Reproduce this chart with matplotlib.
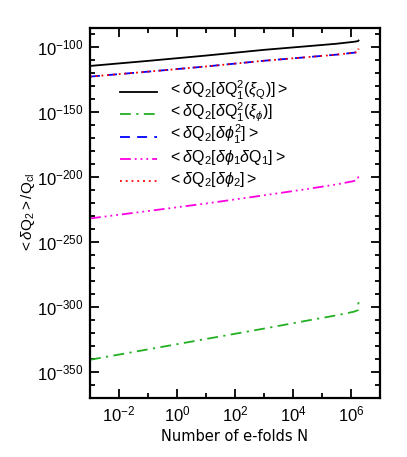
import matplotlib
matplotlib.use("Agg")
import matplotlib.pyplot as plt
from matplotlib.ticker import FixedLocator, FuncFormatter

plt.rcParams['font.family'] = ['Liberation Sans', 'DejaVu Sans']
plt.rcParams['mathtext.fontset'] = 'custom'
plt.rcParams['mathtext.rm'] = 'Liberation Sans'
plt.rcParams['mathtext.it'] = 'Liberation Sans:italic'
plt.rcParams['mathtext.bf'] = 'Liberation Sans:bold'

# log10 of the number of e-folds N
log_N = [-3, -1, 1, 3, 4.5, 5.5, 6.1, 6.24, 6.26]
log_N_blue = [-3, -1, 1, 3, 4.5, 5.5, 6.1, 6.24]

# log10 of <dQ2>/Q_cl for each contribution
log_Q1Q1_xiQ = [-114.6, -110.7, -106.6, -102.2, -99.4, -97.5, -96.0, -95.5, -95.0]
log_Q1Q1_xiphi = [-340.8, -332.8, -324.8, -316.8, -310.6, -306.6, -303.8, -302.6, -296.0]
log_phi1sq = [-122.8, -119.0, -115.0, -110.6, -107.8, -105.9, -104.4, -103.9]
log_phi1Q1 = [-232.0, -226.3, -220.5, -214.2, -209.3, -205.8, -203.2, -201.8, -197.4]
log_phi2 = [-122.8, -119.0, -115.0, -110.6, -107.8, -105.9, -104.4, -103.9, -101.2]

labels = [
    r'$<\delta\mathrm{Q}_2[\delta\mathrm{Q}_1^2(\xi_\mathrm{Q})]>$',
    r'$<\delta\mathrm{Q}_2[\delta\mathrm{Q}_1^2(\xi_\phi)]$',
    r'$<\delta\mathrm{Q}_2[\delta\phi_1^2]>$',
    r'$<\delta\mathrm{Q}_2[\delta\phi_1\delta\mathrm{Q}_1]>$',
    r'$<\delta\mathrm{Q}_2[\delta\phi_2]>$',
]

x_major = [-2, 0, 2, 4, 6]
x_minor = [-3, -1, 1, 3, 5, 7]
y_major = [-350, -300, -250, -200, -150, -100]
y_minor = list(range(-370, -80, 10))

W, H = 407, 457
L, R, T, B = 90, 380, 27.5, 397.7
fig = plt.figure(figsize=(W/100, H/100), dpi=100)
ax = fig.add_axes([L/W, 1-B/H, (R-L)/W, (B-T)/H])

lw = 1.3
styles = [
    dict(color='black', ls='-'),
    dict(color='#22b022', ls=(0, (6, 3, 1.2, 3))),
    dict(color='#0000ff', ls=(0, (5.5, 4))),
    dict(color='#ff00e0', ls=(0, (6, 2.2, 1, 2.2, 1, 2.2, 1, 2.2))),
    dict(color='#ff0000', ls=(0, (1, 2.2))),
]
series = [
    (log_N, log_Q1Q1_xiQ),
    (log_N, log_Q1Q1_xiphi),
    (log_N_blue, log_phi1sq),
    (log_N, log_phi1Q1),
    (log_N, log_phi2),
]
for (xs, ys), st in zip(series, styles):
    ax.plot(xs, ys, lw=lw, **st)

# legend drawn by hand for even row spacing
row_px = [92, 114.3, 136.5, 158.7, 181]
hx0, hx1, tx = 120, 157, 168
for lab, st, py in zip(labels, styles, row_px):
    fy = (B - py) / (B - T)
    ax.plot([(hx0-L)/(R-L), (hx1-L)/(R-L)], [fy, fy], transform=ax.transAxes,
            clip_on=False, lw=lw, **st)
    ax.text((tx-L)/(R-L), (B - py - 3) / (B - T), lab, transform=ax.transAxes,
            fontsize=11.5, va='baseline', ha='left')

ax.set_xlim(-3, 7)
ax.set_ylim(-370, -85)

ax.xaxis.set_major_locator(FixedLocator(x_major))
ax.xaxis.set_minor_locator(FixedLocator(x_minor))
ax.yaxis.set_major_locator(FixedLocator(y_major))
ax.yaxis.set_minor_locator(FixedLocator(y_minor))
fmt = FuncFormatter(lambda v, p: r'$10^{%d}$' % int(round(v)))
ax.xaxis.set_major_formatter(fmt)
ax.yaxis.set_major_formatter(fmt)

ax.tick_params(which='both', direction='in', top=True, right=True, width=1.3)
ax.tick_params(which='major', length=6.5, labelsize=12, pad=5)
ax.tick_params(which='minor', length=3.5)
for s in ax.spines.values():
    s.set_linewidth(1.6)

ax.set_xlabel('Number of e-folds N', family='DejaVu Sans', fontsize=10.5, labelpad=3)
ax.set_ylabel(r'$<\delta\mathrm{Q}_2>/\mathrm{Q}_\mathrm{cl}$', fontsize=11, labelpad=0)

fig.savefig('out.png', dpi=100)
